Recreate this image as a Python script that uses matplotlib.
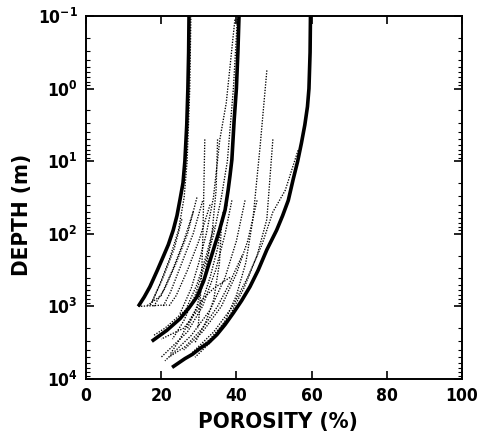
import numpy as np
import matplotlib.pyplot as plt
from matplotlib.ticker import LogLocator, NullFormatter, FixedLocator

plt.rcParams['font.family'] = ['DejaVu Sans']
plt.rcParams['font.stretch'] = 'condensed'
plt.rcParams['mathtext.fontset'] = 'custom'
plt.rcParams['mathtext.rm'] = 'DejaVu Sans:bold:stretch=condensed'
plt.rcParams['mathtext.bf'] = 'DejaVu Sans:bold:stretch=condensed'

# thick envelope curves: porosity (%) and log10 depth (m)
left_por = [27.4, 27.3, 27.1, 26.8, 26.3, 25.8, 25.0, 24.2, 23.2, 21.9, 20.5, 19.0, 17.0, 15.5, 13.9]
left_logd = [-1.0, -0.5, 0.0, 0.5, 1.0, 1.3, 1.53, 1.75, 1.95, 2.15, 2.32, 2.5, 2.73, 2.87, 3.0]

mid_por = [40.7, 40.4, 40.0, 39.4, 38.8, 38.3, 37.8, 37.0, 35.5, 34.3, 32.8, 31.3, 29.5, 27.4, 25.0, 21.5, 17.5]
mid_logd = [-1.0, -0.5, 0.0, 0.44, 0.98, 1.2, 1.4, 1.67, 1.95, 2.15, 2.4, 2.65, 2.87, 3.02, 3.17, 3.33, 3.48]

right_por = [59.7, 59.6, 59.3, 58.9, 58.2, 57.3, 56.3, 55.1, 53.8, 52.3, 50.7, 48.1, 45.8, 43.6, 41.4,
             39.2, 37.0, 34.8, 32.6, 30.3, 28.3, 26.3, 24.6, 22.9]
right_logd = [-1.0, -0.5, 0.0, 0.25, 0.5, 0.75, 1.0, 1.25, 1.54, 1.75, 1.95, 2.22, 2.5, 2.73, 2.92,
              3.09, 3.25, 3.39, 3.5, 3.58, 3.66, 3.72, 3.78, 3.84]

# dotted individual profiles (porosity %, log10 depth)
dotted = [
    [(27.9, -1.0), (27.6, 0.0), (26.9, 1.0), (26.1, 1.5), (24.6, 1.95), (22.2, 2.35), (19.6, 2.7), (17.0, 3.0)],
    [(40.3, -1.0), (39.2, 0.0), (37.6, 1.0), (36.0, 1.5), (34.0, 2.0), (31.5, 2.45), (29.0, 2.85), (26.0, 3.2), (23.0, 3.45)],
    [(39.6, -0.95), (37.3, 0.2), (35.6, 0.7), (33.9, 1.5), (32.0, 2.0), (30.0, 2.4), (28.0, 2.75), (25.0, 3.1)],
    [(48.1, -0.25), (46.3, 0.8), (44.4, 1.8), (42.5, 2.4), (40.0, 2.85), (37.0, 3.2), (33.0, 3.5), (29.0, 3.7)],
    [(49.7, 0.7), (48.1, 1.8), (45.5, 2.3), (42.0, 2.75), (38.0, 3.15), (33.0, 3.45), (27.0, 3.7), (24.0, 3.8)],
    [(56.4, 0.85), (53.0, 1.4), (49.7, 1.7), (46.8, 2.15), (43.0, 2.6), (39.0, 3.0), (34.0, 3.35), (28.0, 3.65)],
    [(31.6, 0.7), (31.3, 1.5), (31.1, 2.0), (30.8, 2.5), (30.3, 3.0), (29.8, 3.3)],
    [(35.0, 0.7), (34.6, 1.4), (33.5, 2.0), (31.5, 2.6), (29.5, 3.0), (27.0, 3.3)],
    [(29.5, 1.5), (27.0, 2.0), (24.0, 2.4), (21.0, 2.75), (18.0, 3.0)],
    [(31.0, 1.55), (28.5, 2.0), (25.5, 2.4), (22.5, 2.8), (20.5, 3.0)],
    [(33.0, 1.6), (30.0, 2.1), (27.0, 2.5), (24.0, 2.85), (22.0, 3.0)],
    [(25.5, 1.8), (23.5, 2.2), (20.5, 2.6), (17.5, 2.95)],
    [(13.9, 3.0), (21.5, 2.98)],
    [(38.8, 1.54), (37.0, 2.0), (34.5, 2.5), (31.0, 3.0), (27.0, 3.35), (22.0, 3.6), (20.0, 3.7)],
    [(42.3, 1.54), (40.0, 2.1), (37.0, 2.6), (33.0, 3.05), (28.0, 3.4), (24.0, 3.6), (21.0, 3.75)],
    [(45.5, 1.54), (43.0, 2.1), (40.0, 2.55), (36.0, 3.0), (31.0, 3.35), (26.0, 3.6)],
    [(36.5, 1.7), (35.0, 2.2), (33.0, 2.6), (30.5, 3.0), (26.0, 3.3), (20.0, 3.45)],
    [(34.0, 1.9), (32.0, 2.3), (29.5, 2.7), (26.5, 3.05), (21.0, 3.3), (18.0, 3.4)],
    [(38.3, 2.6), (34.0, 2.75), (31.0, 2.9), (28.0, 3.15), (25.0, 3.45), (22.5, 3.65)],
    [(41.5, 2.3), (38.0, 2.7), (35.0, 3.0), (31.0, 3.3), (26.5, 3.55), (22.0, 3.7)],
    [(37.5, 1.6), (36.0, 1.9), (35.5, 2.4), (34.0, 2.9), (32.0, 3.2), (29.0, 3.5)],
    [(28.5, 1.7), (26.0, 2.1), (23.0, 2.5), (20.0, 2.85), (16.0, 3.0)],
]

x_ticks = [0, 20, 40, 60, 80, 100]
y_ticks = [1e-1, 1e0, 1e1, 1e2, 1e3, 1e4]
y_labels = [r'$10^{-1}$', r'$10^{0}$', r'$10^{1}$', r'$10^{2}$', r'$10^{3}$', r'$10^{4}$']

fig = plt.figure(figsize=(4.79, 4.38), dpi=100)
ax = fig.add_axes([0.1795, 0.1347, 0.785, 0.8288])

for line in dotted:
    p = [pt[0] for pt in line]
    d = [10 ** pt[1] for pt in line]
    ax.plot(p, d, color='black', lw=0.95, linestyle=(0, (1, 1.1)))

for por, logd in [(left_por, left_logd), (mid_por, mid_logd), (right_por, right_logd)]:
    ax.plot(por, 10 ** np.array(logd), color='black', lw=2.6, solid_capstyle='butt', solid_joinstyle='round')

ax.set_yscale('log')
ax.set_ylim(1e4, 1e-1)
ax.set_xlim(0, 100)

ax.xaxis.set_major_locator(FixedLocator(x_ticks))
ax.set_xticklabels([str(t) for t in x_ticks], fontweight='bold', fontsize=12.5)
ax.yaxis.set_major_locator(FixedLocator(y_ticks))
ax.set_yticklabels(y_labels, fontsize=12.5)
ax.yaxis.set_minor_locator(LogLocator(base=10, subs=np.arange(2, 10), numticks=20))
ax.yaxis.set_minor_formatter(NullFormatter())

ax.tick_params(which='major', direction='in', length=6, width=1.2, top=True, right=True, pad=6)
ax.tick_params(which='minor', direction='in', length=3, width=0.8, right=True)
for s in ax.spines.values():
    s.set_linewidth(1.4)

ax.set_xlabel('POROSITY (%)', fontsize=16, fontweight='bold', va='center')
ax.set_ylabel('DEPTH (m)', fontsize=16, fontweight='bold', va='center')
ax.xaxis.set_label_coords(0.51, -0.118)
ax.yaxis.set_label_coords(-0.17, 0.452)

fig.savefig('out.png', dpi=100)
